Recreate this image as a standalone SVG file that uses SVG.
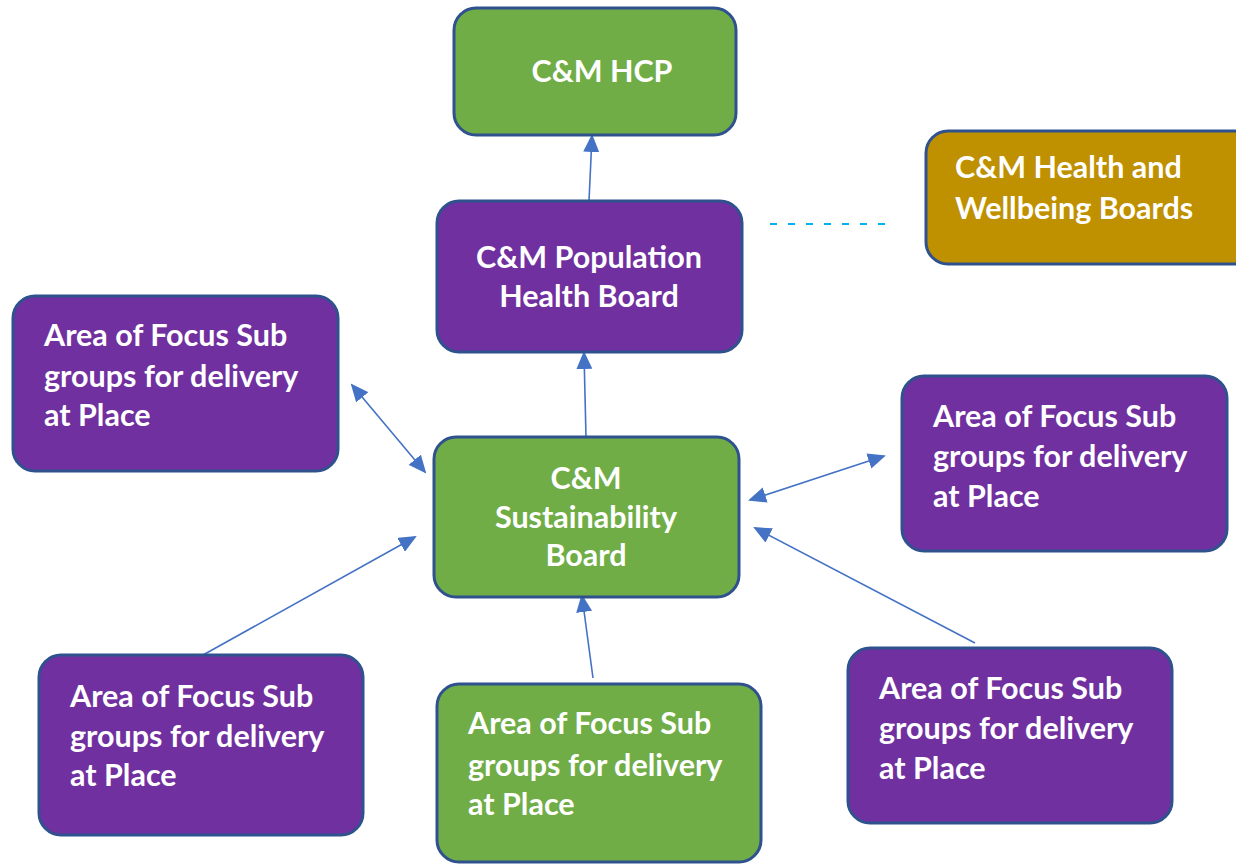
<svg xmlns="http://www.w3.org/2000/svg" width="1236" height="865" viewBox="0 0 1236 865">
<style>
.box{stroke:#2F528F;stroke-width:3}
.g{fill:#70AD47}
.p{fill:#7030A0}
.y{fill:#BF9000}
.t{font-family:Lato,"Open Sans","Liberation Sans",sans-serif;font-weight:bold;font-size:30.5px;fill:#FFFFFF}
.c{stroke:#4472C4;stroke-width:1.6;fill:none}
</style>
<defs>
<marker id="ah" markerUnits="userSpaceOnUse" markerWidth="18" markerHeight="16" refX="16" refY="8" orient="auto-start-reverse" viewBox="0 0 18 16">
<path d="M0,0 L18,8 L0,16 Z" fill="#4472C4"/>
</marker>
</defs>
<rect width="1236" height="865" fill="#FFFFFF"/>
<g id="connectors">
<line class="c" x1="589" y1="201" x2="592" y2="136" marker-end="url(#ah)"/>
<line class="c" x1="586" y1="437" x2="584" y2="353" marker-end="url(#ah)"/>
<line class="c" x1="352" y1="385" x2="425" y2="472" marker-start="url(#ah)" marker-end="url(#ah)"/>
<line class="c" x1="750" y1="500" x2="884" y2="456" marker-start="url(#ah)" marker-end="url(#ah)"/>
<line class="c" x1="975" y1="643" x2="755" y2="528" marker-end="url(#ah)"/>
<line class="c" x1="203" y1="655" x2="415" y2="537" marker-end="url(#ah)"/>
<line class="c" x1="593" y1="678" x2="582" y2="596" marker-end="url(#ah)"/>
<line x1="770" y1="224" x2="886" y2="224" stroke="#00B0F0" stroke-width="2" stroke-dasharray="7,11"/>
</g>
<g id="hcp">
<rect class="box g" x="454" y="8" width="282" height="127" rx="22"/>
<text class="t" x="602" y="82" text-anchor="middle">C&amp;M HCP</text>
</g>
<g id="hwb">
<rect class="box y" x="926" y="131" width="330" height="133" rx="22"/>
<text class="t" x="955" y="178">C&amp;M Health and</text>
<text class="t" x="955" y="219">Wellbeing Boards</text>
</g>
<g id="phb">
<rect class="box p" x="437" y="201" width="305" height="151" rx="22"/>
<text class="t" x="589" y="268" text-anchor="middle">C&amp;M Population</text>
<text class="t" x="589" y="307" text-anchor="middle">Health Board</text>
</g>
<g id="aof-left-top">
<rect class="box p" x="13" y="296" width="325" height="175" rx="22"/>
<text class="t" x="44" y="346">Area of Focus Sub</text>
<text class="t" x="44" y="387">groups for delivery</text>
<text class="t" x="44" y="426">at Place</text>
</g>
<g id="sust">
<rect class="box g" x="434" y="437" width="305" height="160" rx="22"/>
<text class="t" x="586" y="489" text-anchor="middle">C&amp;M</text>
<text class="t" x="586" y="528" text-anchor="middle">Sustainability</text>
<text class="t" x="586" y="566" text-anchor="middle">Board</text>
</g>
<g id="aof-right">
<rect class="box p" x="902" y="376" width="325" height="175" rx="22"/>
<text class="t" x="933" y="427">Area of Focus Sub</text>
<text class="t" x="933" y="467">groups for delivery</text>
<text class="t" x="933" y="507">at Place</text>
</g>
<g id="aof-bottom-left">
<rect class="box p" x="39" y="655" width="324" height="180" rx="22"/>
<text class="t" x="70" y="707">Area of Focus Sub</text>
<text class="t" x="70" y="747">groups for delivery</text>
<text class="t" x="70" y="786">at Place</text>
</g>
<g id="aof-bottom-center">
<rect class="box g" x="437" y="684" width="324" height="178" rx="22"/>
<text class="t" x="468" y="734">Area of Focus Sub</text>
<text class="t" x="468" y="776">groups for delivery</text>
<text class="t" x="468" y="815">at Place</text>
</g>
<g id="aof-bottom-right">
<rect class="box p" x="848" y="648" width="324" height="175" rx="22"/>
<text class="t" x="879" y="699">Area of Focus Sub</text>
<text class="t" x="879" y="739">groups for delivery</text>
<text class="t" x="879" y="779">at Place</text>
</g>
</svg>
